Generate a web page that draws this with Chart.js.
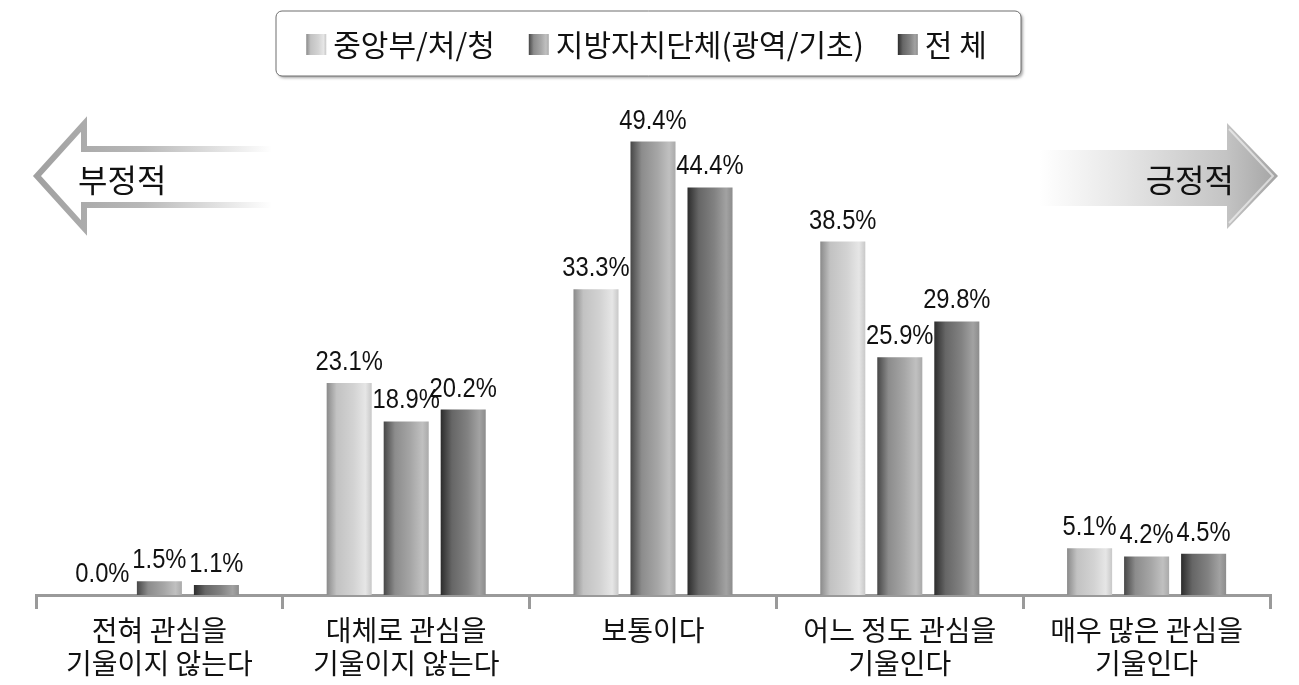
<!DOCTYPE html>
<html><head><meta charset="utf-8">
<script src="https://cdn.jsdelivr.net/npm/chart.js@4.4.0/dist/chart.umd.min.js"></script>
<style>html,body{margin:0;padding:0;background:#fff;}#wrap{width:1299px;height:685px;}</style>
</head><body><div id="wrap"><canvas id="c" width="1299" height="685"></canvas></div>
<script>
const categories = [['전혀 관심을','기울이지 않는다'], ['대체로 관심을','기울이지 않는다'], ['보통이다'], ['어느 정도 관심을','기울인다'], ['매우 많은 관심을','기울인다']];
const seriesNames = ['중앙부/처/청', '지방자치단체(광역/기초)', '전 체'];
const central = [0.0, 23.1, 33.3, 38.5, 5.1];
const local = [1.5, 18.9, 49.4, 25.9, 4.2];
const total = [1.1, 20.2, 44.4, 29.8, 4.5];
const arrowLabels = ['부정적', '긍정적'];

const KR = '"Noto Sans CJK KR", "Noto Sans", sans-serif';
const NUM = '"Liberation Sans", Arial, sans-serif';
const stops = [
  [[0,'#8a8a8a'],[0.22,'#c2c2c2'],[0.6,'#d3d3d3'],[0.86,'#e6e6e6'],[1,'#c8c8c8']],
  [[0,'#474747'],[0.25,'#8c8c8c'],[0.6,'#a6a6a6'],[0.86,'#c0c0c0'],[1,'#aaaaaa']],
  [[0,'#2c2c2c'],[0.25,'#666666'],[0.6,'#828282'],[0.86,'#a2a2a2'],[1,'#8c8c8c']]
];
function grad(ctx, x0, x1, si){
  const g = ctx.createLinearGradient(x0,0,x1,0);
  stops[si].forEach(s=>g.addColorStop(s[0],s[1]));
  return g;
}
const CP = 0.693, BP = 0.79;
function barFill(c){
  const chart = c.chart, xs = chart.scales.x;
  if (!xs || !chart.chartArea || c.dataIndex === undefined) return '#999';
  const cw = xs.width / categories.length;
  const pitch = cw * CP / 3;
  const bw = pitch * BP;
  const cx = xs.getPixelForValue(c.dataIndex) + (c.datasetIndex - 1) * pitch;
  return grad(chart.ctx, cx - bw/2, cx + bw/2, c.datasetIndex);
}

const deco = {
  id: 'deco',
  beforeDraw(chart){
    const ctx = chart.ctx;
    ctx.save();
    // legend box
    const bx=276, by=11, bw=745, bh=65, r=6;
    ctx.shadowColor='rgba(0,0,0,0.35)'; ctx.shadowBlur=3; ctx.shadowOffsetX=2; ctx.shadowOffsetY=2;
    ctx.beginPath(); ctx.roundRect(bx,by,bw,bh,r); ctx.fillStyle='#fff'; ctx.fill();
    ctx.shadowColor='transparent';
    ctx.lineWidth=1; ctx.strokeStyle='#6e6e6e'; ctx.stroke();
    ctx.font = '30px ' + KR; ctx.textBaseline='middle'; ctx.textAlign='left';
    const sw=20, sh=21, gap=7, itemGap=34;
    const widths = chart.data.datasets.map(d=>ctx.measureText(d.label).width);
    let totalW = widths.reduce((a,w)=>a+sw+gap+w,0) + itemGap*(widths.length-1);
    let x = bx + (bw-totalW)/2 - 2;
    const cy = by + bh/2;
    chart.data.datasets.forEach((d,i)=>{
      ctx.fillStyle = grad(ctx, x, x+sw, i);
      ctx.fillRect(x, cy-sh/2+1, sw, sh);
      ctx.fillStyle='#111';
      ctx.fillText(d.label, x+sw+gap, cy+1);
      x += sw+gap+widths[i]+itemGap;
    });
    // left arrow (outline, fading)
    let g = ctx.createLinearGradient(35,0,272,0);
    g.addColorStop(0,'#a0a0a0'); g.addColorStop(0.45,'#b8b8b8'); g.addColorStop(1,'rgba(255,255,255,1)');
    ctx.beginPath();
    ctx.moveTo(272,149); ctx.lineTo(84,149); ctx.lineTo(84,124); ctx.lineTo(37,176);
    ctx.lineTo(84,228); ctx.lineTo(84,205); ctx.lineTo(272,205);
    ctx.lineWidth=6; ctx.lineJoin='miter'; ctx.strokeStyle=g; ctx.stroke();
    // right arrow (filled, fading)
    g = ctx.createLinearGradient(1040,0,1278,0);
    g.addColorStop(0,'rgba(255,255,255,1)'); g.addColorStop(0.35,'#e6e6e6'); g.addColorStop(0.78,'#c4c4c4'); g.addColorStop(1,'#a4a4a4');
    ctx.beginPath();
    ctx.moveTo(1040,150); ctx.lineTo(1227,150); ctx.lineTo(1227,123); ctx.lineTo(1278,176);
    ctx.lineTo(1227,229); ctx.lineTo(1227,206); ctx.lineTo(1040,206); ctx.closePath();
    ctx.fillStyle=g; ctx.fill();
    ctx.beginPath();
    ctx.moveTo(1229,129); ctx.lineTo(1273,176); ctx.lineTo(1229,223);
    ctx.lineWidth=2; ctx.strokeStyle='rgba(255,255,255,0.55)'; ctx.stroke();
    // arrow texts
    ctx.font = '32px ' + KR; ctx.fillStyle='#111'; ctx.textBaseline='middle';
    ctx.textAlign='left'; ctx.fillText(arrowLabels[0], 78, 180);
    ctx.textAlign='right'; ctx.fillText(arrowLabels[1], 1234, 180);
    ctx.restore();
  },
  afterDatasetsDraw(chart){
    const ctx = chart.ctx;
    ctx.save();
    ctx.font = '27px ' + NUM; ctx.fillStyle='#111';
    ctx.textAlign='center'; ctx.textBaseline='alphabetic';
    const sx = 0.88;
    chart.data.datasets.forEach((d,i)=>{
      chart.getDatasetMeta(i).data.forEach((el,j)=>{
        ctx.save();
        ctx.translate(el.x, el.y - 13);
        ctx.scale(sx, 1);
        ctx.fillText(d.data[j].toFixed(1)+'%', 0, 0);
        ctx.restore();
      });
    });
    ctx.restore();
  }
};

new Chart(document.getElementById('c'), {
  type: 'bar',
  data: {
    labels: categories,
    datasets: [
      {label: seriesNames[0], data: central, backgroundColor: barFill},
      {label: seriesNames[1], data: local, backgroundColor: barFill},
      {label: seriesNames[2], data: total, backgroundColor: barFill}
    ]
  },
  options: {
    responsive: false, animation: false,
    categoryPercentage: CP, barPercentage: BP,
    layout: {padding: {top: 136, left: 36, right: 29, bottom: 0}},
    plugins: {legend: {display: false}, tooltip: {enabled: false}},
    scales: {
      y: {display: false, min: 0, max: 50},
      x: {
        afterFit(s){ s.height = 90; },
        border: {display: true, color: '#9a9a9a', width: 3},
        grid: {offset: true, drawOnChartArea: false, drawTicks: true, tickLength: 14, color: '#9a9a9a', lineWidth: 3},
        ticks: {padding: 5, color: '#111', font: {family: KR, size: 28, lineHeight: 1.18}, maxRotation: 0, autoSkip: false}
      }
    }
  },
  plugins: [deco]
});
</script></body></html>
